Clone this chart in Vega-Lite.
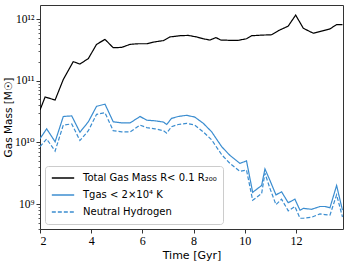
{
  "$schema": "https://vega.github.io/schema/vega-lite/v6.json",
  "width": 303,
  "height": 224,
  "autosize": {"type": "none"},
  "padding": {"left": 40, "top": 5, "right": 11, "bottom": 36},
  "config": {
    "view": {"stroke": "#333333", "strokeWidth": 1},
    "axis": {"domain": false, "grid": false, "tickColor": "#333333", "labelColor": "#000000", "titleColor": "#000000", "titleFontWeight": "normal", "titleFont": "DejaVu Sans", "labelFont": "Liberation Serif, DejaVu Serif"},
    "axisX": {"values": [2, 4, 6, 8, 10, 12], "tickSize": 4, "labelFontSize": 12, "labelPadding": 2, "titleFontSize": 11, "titlePadding": 3}
  },
  "data": {
    "values": [
      {"s": "total", "t": 2.00, "m": 3.35e10},
      {"s": "total", "t": 2.20, "m": 5.45e10},
      {"s": "total", "t": 2.59, "m": 4.86e10},
      {"s": "total", "t": 2.91, "m": 1.047e11},
      {"s": "total", "t": 3.30, "m": 2.04e11},
      {"s": "total", "t": 3.56, "m": 1.86e11},
      {"s": "total", "t": 3.89, "m": 2.29e11},
      {"s": "total", "t": 4.21, "m": 3.89e11},
      {"s": "total", "t": 4.54, "m": 4.68e11},
      {"s": "total", "t": 4.86, "m": 3.43e11},
      {"s": "total", "t": 5.19, "m": 3.47e11},
      {"s": "total", "t": 5.52, "m": 3.89e11},
      {"s": "total", "t": 5.84, "m": 3.98e11},
      {"s": "total", "t": 6.17, "m": 3.98e11},
      {"s": "total", "t": 6.49, "m": 4.27e11},
      {"s": "total", "t": 6.82, "m": 4.47e11},
      {"s": "total", "t": 7.08, "m": 5.13e11},
      {"s": "total", "t": 7.47, "m": 5.37e11},
      {"s": "total", "t": 7.79, "m": 5.43e11},
      {"s": "total", "t": 8.12, "m": 5.13e11},
      {"s": "total", "t": 8.38, "m": 4.79e11},
      {"s": "total", "t": 8.64, "m": 4.57e11},
      {"s": "total", "t": 8.875, "m": 5.01e11},
      {"s": "total", "t": 9.06, "m": 4.57e11},
      {"s": "total", "t": 9.42, "m": 4.52e11},
      {"s": "total", "t": 9.75, "m": 4.52e11},
      {"s": "total", "t": 10.07, "m": 4.79e11},
      {"s": "total", "t": 10.27, "m": 5.37e11},
      {"s": "total", "t": 10.72, "m": 5.50e11},
      {"s": "total", "t": 11.05, "m": 5.56e11},
      {"s": "total", "t": 11.31, "m": 6.46e11},
      {"s": "total", "t": 11.70, "m": 7.69e11},
      {"s": "total", "t": 11.99, "m": 1.16e12},
      {"s": "total", "t": 12.29, "m": 7.08e11},
      {"s": "total", "t": 12.68, "m": 5.89e11},
      {"s": "total", "t": 13.00, "m": 6.38e11},
      {"s": "total", "t": 13.33, "m": 6.92e11},
      {"s": "total", "t": 13.59, "m": 8.13e11},
      {"s": "total", "t": 13.82, "m": 8.13e11},

      {"s": "cold", "t": 2.00, "m": 1.148e10},
      {"s": "cold", "t": 2.26, "m": 1.66e10},
      {"s": "cold", "t": 2.59, "m": 1.023e10},
      {"s": "cold", "t": 2.91, "m": 2.63e10},
      {"s": "cold", "t": 3.24, "m": 2.69e10},
      {"s": "cold", "t": 3.56, "m": 1.46e10},
      {"s": "cold", "t": 3.89, "m": 2.16e10},
      {"s": "cold", "t": 4.21, "m": 3.85e10},
      {"s": "cold", "t": 4.54, "m": 4.17e10},
      {"s": "cold", "t": 4.86, "m": 2.16e10},
      {"s": "cold", "t": 5.19, "m": 2.07e10},
      {"s": "cold", "t": 5.52, "m": 2.07e10},
      {"s": "cold", "t": 5.91, "m": 2.63e10},
      {"s": "cold", "t": 6.17, "m": 2.29e10},
      {"s": "cold", "t": 6.49, "m": 2.24e10},
      {"s": "cold", "t": 6.82, "m": 2.14e10},
      {"s": "cold", "t": 6.95, "m": 1.95e10},
      {"s": "cold", "t": 7.14, "m": 2.45e10},
      {"s": "cold", "t": 7.40, "m": 2.63e10},
      {"s": "cold", "t": 7.73, "m": 2.75e10},
      {"s": "cold", "t": 8.05, "m": 2.57e10},
      {"s": "cold", "t": 8.38, "m": 2.04e10},
      {"s": "cold", "t": 8.71, "m": 1.48e10},
      {"s": "cold", "t": 9.10, "m": 8.51e9},
      {"s": "cold", "t": 9.42, "m": 6.17e9},
      {"s": "cold", "t": 9.81, "m": 4.57e9},
      {"s": "cold", "t": 10.07, "m": 5.01e9},
      {"s": "cold", "t": 10.31, "m": 1.55e9},
      {"s": "cold", "t": 10.66, "m": 2.0e9},
      {"s": "cold", "t": 10.79, "m": 3.72e9},
      {"s": "cold", "t": 10.98, "m": 2.45e9},
      {"s": "cold", "t": 11.22, "m": 1.41e9},
      {"s": "cold", "t": 11.44, "m": 1.58e9},
      {"s": "cold", "t": 11.70, "m": 1.05e9},
      {"s": "cold", "t": 11.96, "m": 1.20e9},
      {"s": "cold", "t": 12.16, "m": 7.94e8},
      {"s": "cold", "t": 12.29, "m": 8.51e8},
      {"s": "cold", "t": 12.61, "m": 8.22e8},
      {"s": "cold", "t": 12.94, "m": 9.12e8},
      {"s": "cold", "t": 13.13, "m": 9.12e8},
      {"s": "cold", "t": 13.33, "m": 8.71e8},
      {"s": "cold", "t": 13.59, "m": 2.0e9},
      {"s": "cold", "t": 13.82, "m": 7.94e8},

      {"s": "hi", "t": 2.00, "m": 8.51e9},
      {"s": "hi", "t": 2.26, "m": 1.135e10},
      {"s": "hi", "t": 2.59, "m": 7.24e9},
      {"s": "hi", "t": 2.91, "m": 1.905e10},
      {"s": "hi", "t": 3.24, "m": 1.995e10},
      {"s": "hi", "t": 3.56, "m": 1.072e10},
      {"s": "hi", "t": 3.89, "m": 1.549e10},
      {"s": "hi", "t": 4.21, "m": 2.85e10},
      {"s": "hi", "t": 4.54, "m": 3.02e10},
      {"s": "hi", "t": 4.86, "m": 1.55e10},
      {"s": "hi", "t": 5.19, "m": 1.48e10},
      {"s": "hi", "t": 5.52, "m": 1.48e10},
      {"s": "hi", "t": 5.91, "m": 1.905e10},
      {"s": "hi", "t": 6.17, "m": 1.74e10},
      {"s": "hi", "t": 6.49, "m": 1.66e10},
      {"s": "hi", "t": 6.82, "m": 1.55e10},
      {"s": "hi", "t": 6.95, "m": 1.41e10},
      {"s": "hi", "t": 7.14, "m": 1.80e10},
      {"s": "hi", "t": 7.40, "m": 1.95e10},
      {"s": "hi", "t": 7.73, "m": 2.04e10},
      {"s": "hi", "t": 8.05, "m": 1.905e10},
      {"s": "hi", "t": 8.38, "m": 1.48e10},
      {"s": "hi", "t": 8.71, "m": 1.096e10},
      {"s": "hi", "t": 9.10, "m": 6.31e9},
      {"s": "hi", "t": 9.42, "m": 4.57e9},
      {"s": "hi", "t": 9.81, "m": 3.39e9},
      {"s": "hi", "t": 10.07, "m": 3.55e9},
      {"s": "hi", "t": 10.31, "m": 1.15e9},
      {"s": "hi", "t": 10.66, "m": 1.48e9},
      {"s": "hi", "t": 10.79, "m": 3.16e9},
      {"s": "hi", "t": 10.98, "m": 1.82e9},
      {"s": "hi", "t": 11.22, "m": 9.77e8},
      {"s": "hi", "t": 11.44, "m": 1.20e9},
      {"s": "hi", "t": 11.70, "m": 7.76e8},
      {"s": "hi", "t": 11.96, "m": 9.12e8},
      {"s": "hi", "t": 12.16, "m": 5.89e8},
      {"s": "hi", "t": 12.29, "m": 5.89e8},
      {"s": "hi", "t": 12.61, "m": 6.10e8},
      {"s": "hi", "t": 12.94, "m": 6.92e8},
      {"s": "hi", "t": 13.13, "m": 6.76e8},
      {"s": "hi", "t": 13.33, "m": 6.61e8},
      {"s": "hi", "t": 13.59, "m": 1.41e9},
      {"s": "hi", "t": 13.82, "m": 6.17e8}
    ]
  },
  "layer": [
    {
      "mark": {"type": "line", "opacity": 0, "clip": true},
      "encoding": {
        "x": {
          "field": "t", "type": "quantitative", "title": "Time [Gyr]",
          "scale": {"domain": [2, 13.84], "nice": false, "zero": false}
        },
        "y": {
          "field": "m", "type": "quantitative",
          "scale": {"type": "log", "domain": [3.94e8, 1.69e12], "nice": false},
          "axis": {
            "orient": "left",
            "values": [4e8, 5e8, 6e8, 7e8, 8e8, 9e8, 2e9, 3e9, 4e9, 5e9, 6e9, 7e9, 8e9, 9e9, 2e10, 3e10, 4e10, 5e10, 6e10, 7e10, 8e10, 9e10, 2e11, 3e11, 4e11, 5e11, 6e11, 7e11, 8e11, 9e11],
            "labels": false, "title": null, "tickSize": 2, "tickWidth": 0.8
          }
        },
        "detail": {"field": "s"}
      }
    },
    {
      "mark": {"type": "line", "strokeWidth": 1.2, "clip": true},
      "encoding": {
        "x": {
          "field": "t", "type": "quantitative", "title": "Time [Gyr]",
          "scale": {"domain": [2, 13.84], "nice": false, "zero": false}
        },
        "y": {
          "field": "m", "type": "quantitative",
          "scale": {"type": "log", "domain": [3.94e8, 1.69e12], "nice": false},
          "axis": {
            "orient": "left",
            "values": [1e9, 1e10, 1e11, 1e12],
            "labelExpr": "datum.value > 5e11 ? '10¹²' : datum.value > 5e10 ? '10¹¹' : datum.value > 5e9 ? '10¹⁰' : '10⁹'",
            "title": "Gas Mass [M☉]", "tickSize": 4,
            "labelFontSize": 11.5, "labelPadding": 2,
            "titleFontSize": 10.5, "titlePadding": 1
          }
        },
        "color": {
          "field": "s", "type": "nominal",
          "scale": {"domain": ["total", "cold", "hi"], "range": ["#000000", "#3b8dd0", "#3b8dd0"]},
          "legend": {
            "title": null, "orient": "bottom-left", "offset": 5,
            "labelExpr": "datum.value == 'total' ? 'Total Gas Mass R< 0.1 R₂₀₀' : datum.value == 'cold' ? 'Tgas < 2×10⁴ K' : 'Neutral Hydrogen'",
            "symbolType": "stroke", "symbolSize": 500, "symbolStrokeWidth": 1.3,
            "labelFont": "DejaVu Sans", "labelFontSize": 10, "labelColor": "#000000", "labelOffset": 8,
            "clipHeight": 12, "rowPadding": 5, "padding": 6,
            "strokeColor": "#cccccc", "fillColor": "#ffffff", "cornerRadius": 3
          }
        },
        "strokeDash": {
          "field": "s", "type": "nominal",
          "scale": {"domain": ["total", "cold", "hi"], "range": [[1, 0], [1, 0], [4, 2]]},
          "legend": {
            "title": null, "orient": "bottom-left", "offset": 5,
            "labelExpr": "datum.value == 'total' ? 'Total Gas Mass R< 0.1 R₂₀₀' : datum.value == 'cold' ? 'Tgas < 2×10⁴ K' : 'Neutral Hydrogen'",
            "symbolType": "stroke", "symbolSize": 500, "symbolStrokeWidth": 1.3,
            "labelFont": "DejaVu Sans", "labelFontSize": 10, "labelColor": "#000000", "labelOffset": 8,
            "clipHeight": 12, "rowPadding": 5, "padding": 6,
            "strokeColor": "#cccccc", "fillColor": "#ffffff", "cornerRadius": 3
          }
        }
      }
    }
  ],
  "resolve": {"axis": {"y": "independent"}}
}
